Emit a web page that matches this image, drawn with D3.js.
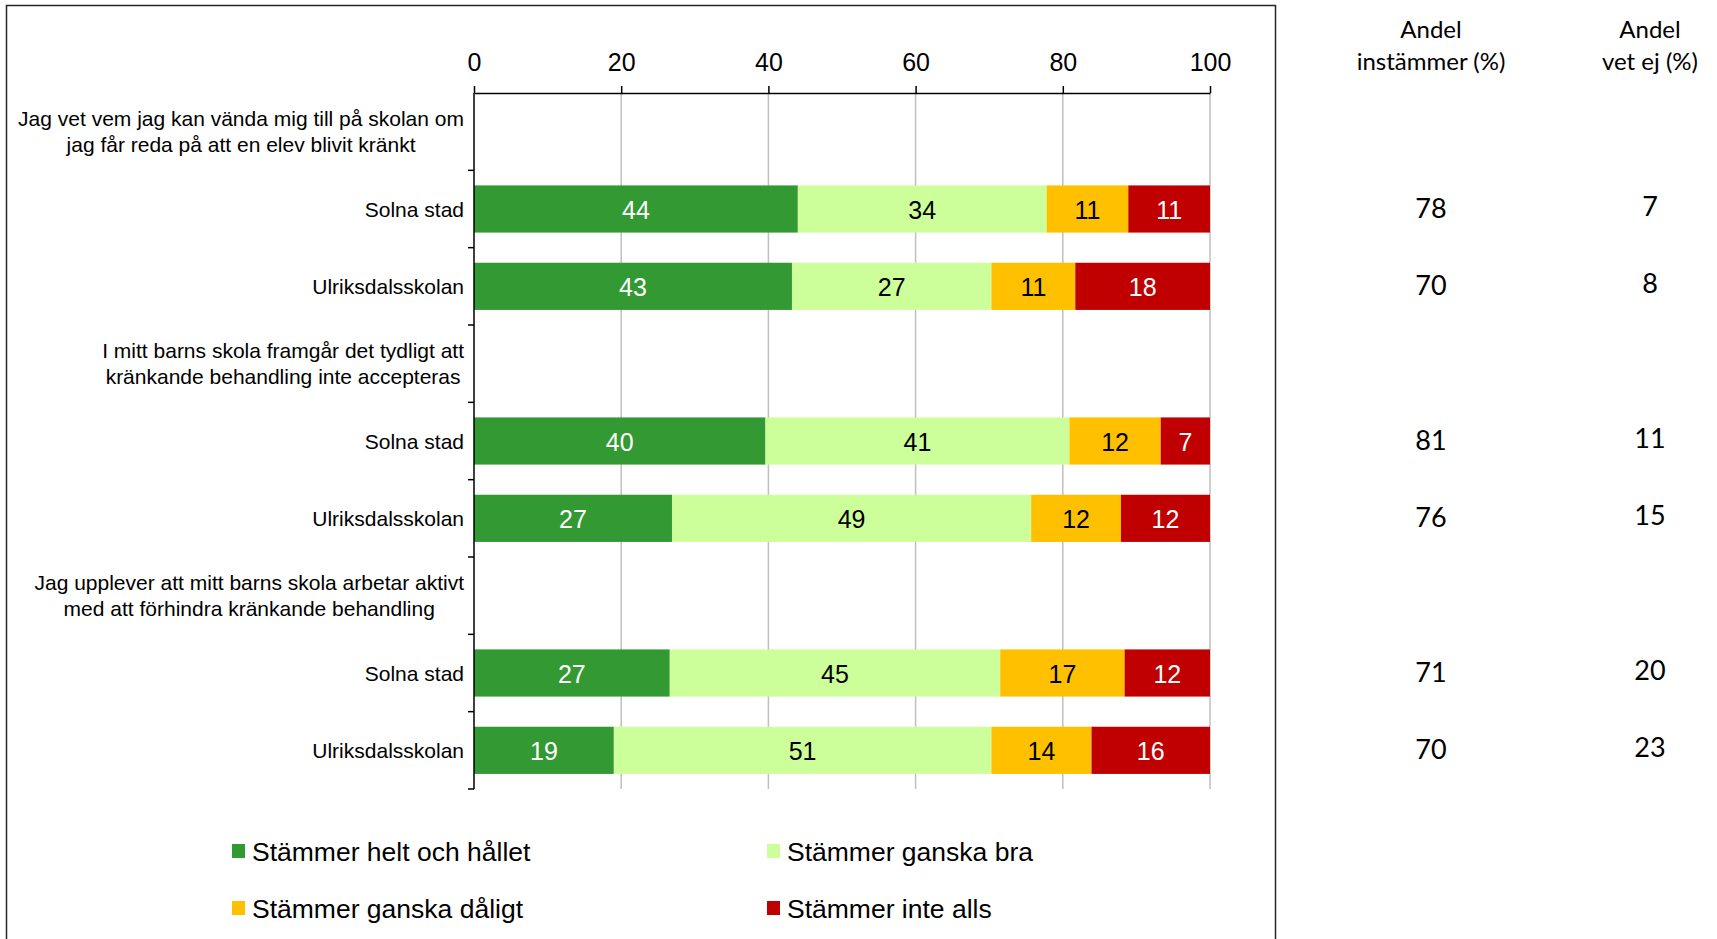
<!DOCTYPE html>
<html><head><meta charset="utf-8">
<script src="https://cdn.jsdelivr.net/npm/d3@7"></script>
<style>
body{margin:0;background:#fff;}
svg{display:block;}
</style></head><body>
<svg id="c" width="1717" height="939"></svg>
<script>
// ---- data ----
const rows = ["h1","s1","u1","h2","s2","u2","h3","s3","u3"];
const rowLabels = [
  ["Jag vet vem jag kan vända mig till på skolan om","jag får reda på att en elev blivit kränkt"],
  ["Solna stad"],["Ulriksdalsskolan"],
  ["I mitt barns skola framgår det tydligt att","kränkande behandling inte accepteras"],
  ["Solna stad"],["Ulriksdalsskolan"],
  ["Jag upplever att mitt barns skola arbetar aktivt","med att förhindra kränkande behandling"],
  ["Solna stad"],["Ulriksdalsskolan"]
];
const seriesNames = ["Stämmer helt och hållet","Stämmer ganska bra","Stämmer ganska dåligt","Stämmer inte alls"];
const helt   = [null,44.0,43.2,null,39.6,26.9,null,26.6,19.0];
const bra    = [null,33.8,27.1,null,41.3,48.8,null,44.9,51.3];
const daligt = [null,11.1,11.4,null,12.4,12.2,null,16.9,13.6];
const inte   = [null,11.1,18.3,null,6.7,12.1,null,11.6,16.1];
const instammer = [null,78,70,null,81,76,null,71,70];
const vetEj     = [null,7,8,null,11,15,null,20,23];
const xTicks = [0,20,40,60,80,100];
const colHeaders = [["Andel","instämmer (%)"],["Andel","vet ej (%)"]];

const colors = ["#339933","#CCFF99","#FFC000","#C00000"];
const textColors = ["#ffffff","#000000","#000000","#ffffff"];
const ARIAL = "'Liberation Sans',Arial,sans-serif";
const CAL = "Lato,'Open Sans',sans-serif";

const svg = d3.select("#c");
// frame
svg.append("rect").attr("x",6.5).attr("y",5.5).attr("width",1269).attr("height",960)
  .attr("fill","none").attr("stroke","#262626").attr("stroke-width",1.5);

const x = d3.scaleLinear().domain([0,100]).range([474,1210]);
const y = d3.scaleBand().domain(rows).range([93,789]).paddingInner(0).paddingOuter(0);
const barH = y.bandwidth()*0.61;

// gridlines
svg.append("g").selectAll("line").data(xTicks.filter(d=>d>0)).join("line")
  .attr("x1",d=>x(d)).attr("x2",d=>x(d)).attr("y1",93).attr("y2",789)
  .attr("stroke","#BFBFBF").attr("stroke-width",1.5);

// stacked bars
const seriesVals = [helt,bra,daligt,inte];
const data = rows.map((r,i)=>{const o={row:r}; seriesVals.forEach((s,k)=>o[k]=s[i]||0); return o;});
const stack = d3.stack().keys([0,1,2,3]);
const stacked = stack(data);
stacked.forEach((layer,k)=>{
  const g = svg.append("g");
  layer.forEach((d,i)=>{
    if(seriesVals[k][i]==null) return;
    const yc = y(rows[i])+y.bandwidth()/2;
    g.append("rect").attr("x",x(d[0])).attr("width",x(d[1])-x(d[0]))
      .attr("y",yc-barH/2).attr("height",barH).attr("fill",colors[k]);
    g.append("text").attr("x",(x(d[0])+x(d[1]))/2).attr("y",yc+1).attr("dy","0.36em")
      .attr("text-anchor","middle").attr("fill",textColors[k])
      .style("font-family",ARIAL).style("font-size","25px")
      .text(Math.round(seriesVals[k][i]));
  });
});

// top axis
const xAxis = d3.axisTop(x).tickValues(xTicks).tickSize(7).tickSizeOuter(0).tickPadding(15);
const gx = svg.append("g").attr("transform","translate(0,93)").call(xAxis);
gx.select(".domain").attr("stroke","#000").attr("stroke-width",1.5);
gx.selectAll(".tick line").attr("stroke","#000").attr("stroke-width",1.5);
gx.selectAll("text").style("font-family",ARIAL).style("font-size","25px").attr("fill","#000");

// left axis line + ticks at band boundaries
svg.append("line").attr("x1",474).attr("x2",474).attr("y1",93).attr("y2",789).attr("stroke","#000").attr("stroke-width",1.5);
const bounds = rows.map(r=>y(r)).concat([789]).slice(1);
svg.append("g").selectAll("line").data(bounds).join("line")
  .attr("x1",468).attr("x2",474).attr("y1",d=>d).attr("y2",d=>d).attr("stroke","#000").attr("stroke-width",1.5);

// row labels
const labelRight = 464;
rowLabels.forEach((lines,i)=>{
  const yc = y(rows[i])+y.bandwidth()/2;
  if(lines.length===1){
    svg.append("text").attr("x",labelRight).attr("y",yc).attr("dy","0.36em").attr("text-anchor","end")
      .style("font-family",ARIAL).style("font-size","21px").text(lines[0]);
  } else {
    const ts = lines.map((t,j)=>svg.append("text").attr("y",yc-13+j*26).attr("dy","0.36em").attr("text-anchor","middle")
        .style("font-family",ARIAL).style("font-size","21px").text(t));
    const maxW = d3.max(ts, t=>t.node().getComputedTextLength());
    ts.forEach(t=>t.attr("x",labelRight-maxW/2));
  }
});

// right columns
const colX = [1431,1650];
colHeaders.forEach((h,c)=>{
  h.forEach((t,j)=>{
    svg.append("text").attr("x",colX[c]).attr("y",29+j*32).attr("dy","0.36em").attr("text-anchor","middle")
      .style("font-family",CAL).style("font-size","24px").text(t);
  });
});
[instammer,vetEj].forEach((arr,c)=>{
  arr.forEach((v,i)=>{
    if(v==null) return;
    const yc = y(rows[i])+y.bandwidth()/2;
    svg.append("text").attr("x",colX[c]).attr("y",yc-1-c*2).attr("dy","0.36em").attr("text-anchor","middle")
      .style("font-family",CAL).style("font-size","27px").text(v);
  });
});

// legend
const legPos = [[232,851],[767,851],[232,908],[767,908]];
seriesNames.forEach((n,k)=>{
  const [lx,ly]=legPos[k];
  svg.append("rect").attr("x",lx).attr("y",ly-7).attr("width",13).attr("height",14).attr("fill",colors[k]);
  svg.append("text").attr("x",lx+20).attr("y",ly).attr("dy","0.36em")
    .style("font-family",ARIAL).style("font-size","26.5px").text(n);
});
</script>
</body></html>
